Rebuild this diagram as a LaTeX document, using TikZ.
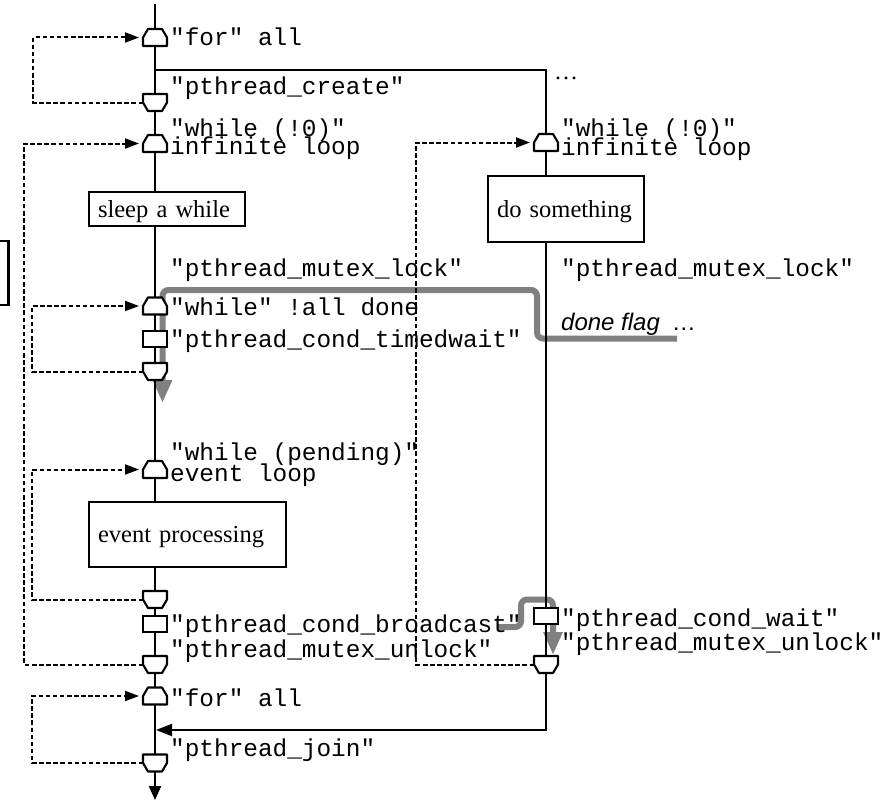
\documentclass[tikz,border=0pt]{standalone}
\usepackage{fontspec}
\setmainfont{Liberation Serif}
\setsansfont{Liberation Sans}
\setmonofont{Liberation Mono}
\usetikzlibrary{arrows.meta}
\newcommand\topsym[3]{%
  \node[symnode] (#1) at (#2,#3) {};
  \draw[symline] (#1.south west) -- (#1.west) -- ([xshift=5pt]#1.north west)
    -- ([xshift=-5pt]#1.north east) -- (#1.east) -- (#1.south east) -- cycle;}
\newcommand\botsym[3]{%
  \node[symnode] (#1) at (#2,#3) {};
  \draw[symline] (#1.north west) -- (#1.west) -- ([xshift=5pt]#1.south west)
    -- ([xshift=-5pt]#1.south east) -- (#1.east) -- (#1.north east) -- cycle;}
\tikzset{
  mainline/.style={line width=2.1pt},
  symnode/.style={minimum width=24pt, minimum height=17pt, inner sep=0pt, outer sep=0pt},
  symline/.style={line width=2.1pt, fill=white, line join=round},
  sqsym/.style={draw, line width=2.1pt, fill=white, minimum width=24pt, minimum height=16pt, inner sep=0pt, outer sep=0pt},
  loopline/.style={line width=2pt, dash pattern=on 4.5pt off 2.6pt, -{Triangle[length=14pt,width=10pt]}, shorten >=4pt},
  codetxt/.style={font=\ttfamily\fontsize{24.4}{24}\selectfont, anchor=base west, inner sep=0pt},
  procbox/.style={draw, line width=2.1pt, fill=white, font=\rmfamily\fontsize{24.5}{24}\selectfont, align=left, inner xsep=9pt, inner ysep=0pt, text height=16pt, text depth=0pt},
  grayflow/.style={line width=6pt, draw=gray, rounded corners=6pt, -{Triangle[length=23pt,width=18pt,fill=gray]}},
}
\begin{document}
\begin{tikzpicture}[x=1pt,y=-1pt]
\useasboundingbox (0,0) rectangle (892,800);

% gray flows
\coordinate (g1s) at (677,338.5);
\coordinate (g1e) at (162.5,403);
\draw[grayflow] (g1s) -- (537,338.5) -- (537,290) -- (162.5,290) -- (g1e);
\coordinate (g2s) at (498,627);
\coordinate (g2e) at (553,655);
\draw[grayflow] (g2s) -- (521,627) -- (521,599.5) -- (553,599.5) -- (g2e);

% main lines
\coordinate (ltop) at (155,4);
\coordinate (lend) at (155,800);
\draw[mainline,-{Triangle[length=14pt,width=12pt]}] (ltop) -- (lend);
\coordinate (fork) at (155,70);
\coordinate (rbend) at (546,730);
\coordinate (joinpt) at (156,730);
\draw[mainline,-{Triangle[length=16pt,width=12pt]}] (fork) -| (rbend) -- (joinpt);

% left symbols
\topsym{forA}{155}{37.5}
\botsym{createB}{155}{102.5}
\topsym{whileA}{155}{143.5}
\topsym{alldoneA}{155}{306}
\node[sqsym] (timedwait) at (155,339) {};
\botsym{alldoneB}{155}{371.5}
\topsym{pendingA}{155}{469.5}
\botsym{pendingB}{155}{599.5}
\node[sqsym] (broadcast) at (155,624) {};
\botsym{whileB}{155}{664.5}
\topsym{forAtwo}{155}{696}
\botsym{joinB}{155}{763}

% right symbols
\topsym{rwhileA}{546}{142.5}
\node[sqsym] (condwait) at (546,616) {};
\botsym{rwhileB}{546}{664.5}

% boxes
\node[procbox, minimum width=156pt, minimum height=34pt, text width=138pt] (sleep) at (167,209) {sleep a while};
\node[procbox, minimum width=156pt, minimum height=66pt, text width=138pt] (dosome) at (566,209) {do something};
\node[procbox, minimum width=197pt, minimum height=65pt, text width=179pt] (evproc) at (187.5,534.5) {event processing};

% partial box at left edge
\draw[line width=2.1pt] (-20,241) rectangle (8.5,305);

% dashed loops
\draw[loopline] (createB.west) -- ++(-110,0) |- (forA.west);
\draw[loopline] (whileB.west) -- ++(-119,0) |- (whileA.west);
\draw[loopline] (alldoneB.west) -- ++(-111,0) |- (alldoneA.west);
\draw[loopline] (pendingB.west) -- ++(-111,0) |- (pendingA.west);
\draw[loopline] (joinB.west) -- ++(-111,0) |- (forAtwo.west);
\draw[loopline] (rwhileB.west) -- ++(-118,0) |- (rwhileA.west);

% left labels
\node[codetxt] (t1) at (170,46) {"for" all};
\node[codetxt] (t2) at (170,95) {"pthread\_create"};
\node[codetxt] (t3) at (170,136) {"while (!0)"};
\node[codetxt] (t4) at (170,154) {infinite loop};
\node[codetxt] (t5) at (170,276) {"pthread\_mutex\_lock"};
\node[codetxt] (t6) at (170,315) {"while" !all done};
\node[codetxt] (t7) at (170,347) {"pthread\_cond\_timedwait"};
\node[codetxt] (t8) at (170,460) {"while (pending)"};
\node[codetxt] (t9) at (170,481) {event loop};
\node[codetxt] (t10) at (170,632) {"pthread\_cond\_broadcast"};
\node[codetxt] (t11) at (170,657) {"pthread\_mutex\_unlock"};
\node[codetxt] (t12) at (170,706) {"for" all};
\node[codetxt] (t13) at (170,756) {"pthread\_join"};

% right labels
\node[codetxt] (r1) at (561,136) {"while (!0)"};
\node[codetxt] (r2) at (561,155) {infinite loop};
\node[codetxt] (r3) at (561,276) {"pthread\_mutex\_lock"};
\node[anchor=base west, inner sep=0pt, font=\sffamily\fontsize{24}{24}\selectfont] (r4) at (561,330) {\textit{done flag}\hspace{12pt}…};
\node[codetxt] (r5) at (561,626) {"pthread\_cond\_wait"};
\node[codetxt] (r6) at (561,650) {"pthread\_mutex\_unlock"};
\node[anchor=base west, inner sep=0pt, font=\rmfamily\fontsize{24}{24}\selectfont] (dots) at (554,80) {\ldots};
\end{tikzpicture}
\end{document}
